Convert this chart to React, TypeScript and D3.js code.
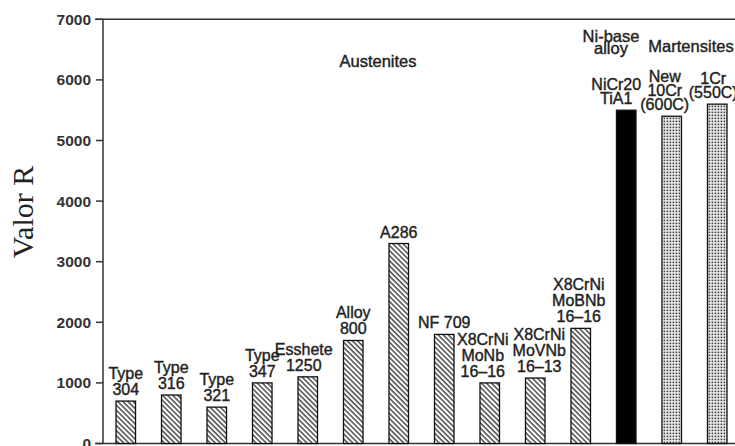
import React from "react";
import * as d3 from "d3";

// Creep-rupture strength of steels by alloy grade
const categories = [
  "Type 304",
  "Type 316",
  "Type 321",
  "Type 347",
  "Esshete 1250",
  "Alloy 800",
  "A286",
  "NF 709",
  "X8CrNi MoNb 16-16",
  "X8CrNi MoVNb 16-13",
  "X8CrNi MoBNb 16-16",
  "NiCr20 TiA1",
  "New 10Cr (600C)",
  "1Cr (550C)",
];
const labelLines = [
  ["Type", "304"],
  ["Type", "316"],
  ["Type", "321"],
  ["Type", "347"],
  ["Esshete", "1250"],
  ["Alloy", "800"],
  ["A286"],
  ["NF 709"],
  ["X8CrNi", "MoNb", "16–16"],
  ["X8CrNi", "MoVNb", "16–13"],
  ["X8CrNi", "MoBNb", "16–16"],
  ["NiCr20", "TiA1"],
  ["New", "10Cr", "(600C)"],
  ["1Cr", "(550C)"],
];
const values = [700, 800, 600, 1000, 1100, 1700, 3300, 1800, 1000, 1080, 1900, 5500, 5400, 5600];
const groups = ["aus", "aus", "aus", "aus", "aus", "aus", "aus", "aus", "aus", "aus", "aus", "ni", "mart", "mart"];
const yTicks = [0, 1000, 2000, 3000, 4000, 5000, 6000, 7000];

// horizontal nudge of some bar captions
const labelShift: Record<string, number> = {
  "Esshete 1250": -4,
  "X8CrNi MoNb 16-16": -7,
  "X8CrNi MoVNb 16-13": 4,
  "X8CrNi MoBNb 16-16": -2,
  "NiCr20 TiA1": -10,
  "New 10Cr (600C)": -7,
  "1Cr (550C)": -4,
};

const W = 735;
const H = 446;
const AX = 103;

const x = d3.scaleBand<string>().domain(categories).range([AX, 740]).paddingInner(0.571).paddingOuter(0.286);
const y = d3.scaleLinear().domain([0, 7000]).range([443.5, 19.3]);

const sans = "'Liberation Sans', Arial, Helvetica, sans-serif";
const ink = "#222";

export default function App() {
  const fillFor = (g: string) => (g === "aus" ? "url(#hatch)" : g === "ni" ? "#000" : "url(#dots)");
  return (
    <svg width={W} height={H} style={{ position: "absolute", left: 0, top: 0, background: "#fff" }}>
      <defs>
        <pattern id="hatch" patternUnits="userSpaceOnUse" width={3.6} height={3.6} patternTransform="rotate(-45)">
          <rect width={3.6} height={3.6} fill="#fff" />
          <line x1={1} y1={0} x2={1} y2={3.6} stroke="#111" strokeWidth={1.15} />
        </pattern>
        <pattern id="dots" patternUnits="userSpaceOnUse" width={3} height={3}>
          <rect width={3} height={3} fill="#eeeeee" />
          <rect x={0.6} y={0.6} width={1.6} height={1.6} fill="#3a3a3a" />
        </pattern>
      </defs>

      {/* axes frame */}
      <g stroke="#333" strokeWidth={1.5} fill="none">
        <line x1={AX} y1={y(0)} x2={AX} y2={y(7000)} />
        <line x1={AX - 8} y1={y(7000)} x2={W} y2={y(7000)} />
        <line x1={AX - 8} y1={y(0)} x2={W} y2={y(0)} />
        {yTicks.map((t) => (
          <line key={t} x1={AX - 7} x2={AX} y1={y(t)} y2={y(t)} />
        ))}
      </g>
      <g fontFamily={sans} fontSize={15.5} fontWeight="bold" fill="#333" textAnchor="end">
        {yTicks.map((t) => (
          <text key={t} x={AX - 12} y={y(t)} dy="0.36em">
            {t}
          </text>
        ))}
      </g>
      <text
        transform={`translate(33,${212}) rotate(-90)`}
        textAnchor="middle"
        fontFamily="'Liberation Serif', 'Times New Roman', serif"
        fontSize={30}
        fill="#222"
      >
        Valor R
      </text>

      {/* bars */}
      {categories.map((c, i) => (
        <rect
          key={c}
          x={x(c)!}
          y={y(values[i])}
          width={x.bandwidth()}
          height={y(0) - y(values[i])}
          fill={fillFor(groups[i])}
          stroke="#111"
          strokeWidth={1.3}
        />
      ))}

      {/* bar captions */}
      <g fontFamily={sans} fontSize={16} fill={ink} stroke={ink} strokeWidth={0.4} textAnchor="middle">
        {categories.map((c, i) => {
          const lines = labelLines[i];
          const lh = groups[i] === "aus" ? 16 : 14;
          const cx = x(c)! + x.bandwidth() / 2 + (labelShift[c] ?? 0);
          const base = y(values[i]) - 6;
          return (
            <text key={c} x={cx}>
              {lines.map((ln, j) => (
                <tspan key={j} x={cx} y={base - (lines.length - 1 - j) * lh}>
                  {ln}
                </tspan>
              ))}
            </text>
          );
        })}
      </g>

      {/* group titles */}
      <g fontFamily={sans} fontSize={16.5} fill={ink} stroke={ink} strokeWidth={0.4} textAnchor="middle">
        <text x={378} y={67}>Austenites</text>
        <text x={611} y={41.5}>Ni-base</text>
        <text x={611} y={54}>alloy</text>
        <text x={691} y={51.5}>Martensites</text>
      </g>
    </svg>
  );
}
